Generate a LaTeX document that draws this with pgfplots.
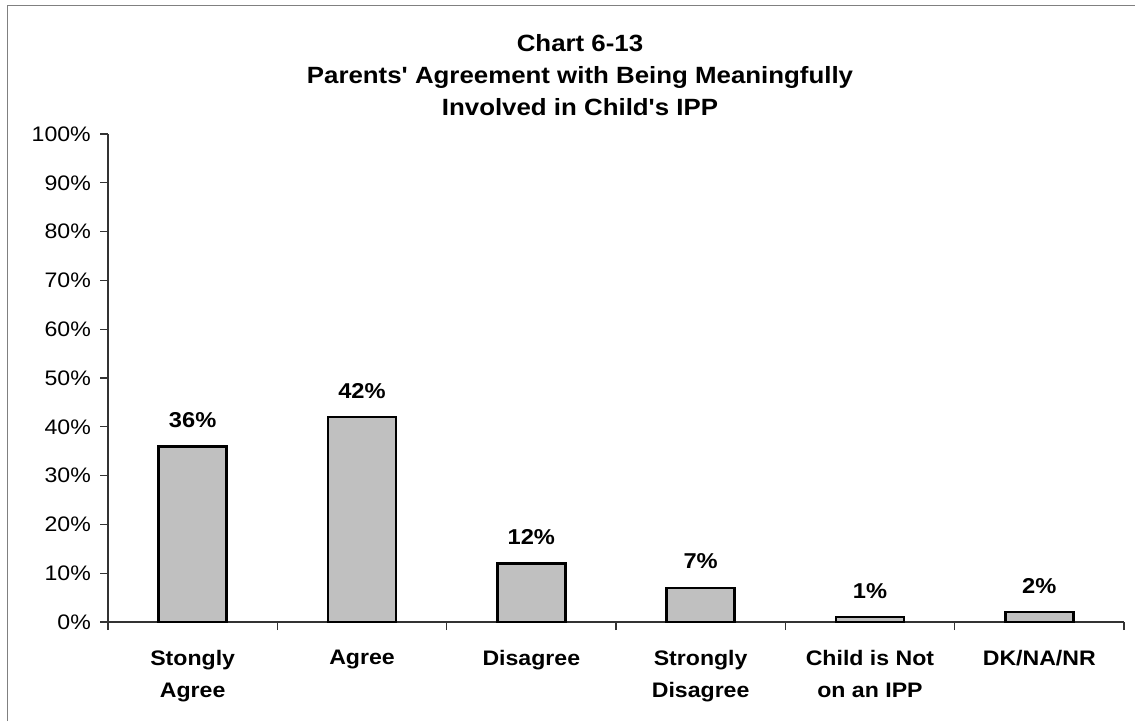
\documentclass[border=0pt]{standalone}
\usepackage{fontspec}
\setmainfont{Liberation Sans}[FakeStretch=1.1, Ligatures=TeXOff]
\usepackage{pgfplots}
\pgfplotsset{compat=1.18}
\definecolor{barfill}{HTML}{C0C0C0}
\definecolor{framegray}{HTML}{808080}
\begin{document}
\begin{tikzpicture}[x=1pt,y=1pt]
\useasboundingbox (0,0) rectangle (1135,721);
\draw[framegray, line width=1.5pt] (7.5,0) -- (7.5,715.5) -- (1135,715.5);
\node[anchor=north, inner sep=0pt, align=center, font=\fontsize{23.5}{32}\selectfont\bfseries] at (580,687) {Chart 6-13\\Parents' Agreement with Being Meaningfully\\Involved in Child's IPP};
\begin{axis}[
  at={(108pt,99pt)}, anchor=south west,
  scale only axis, width=1016pt, height=488pt,
  xmin=-0.5, xmax=5.5, ymin=0, ymax=100,
  axis lines*=left,
  axis line style={black!80, line width=1.2pt},
  clip=false,
  /pgf/number format/assume math mode=true,
  ytick={0,10,...,100},
  yticklabels={0\%,10\%,20\%,30\%,40\%,50\%,60\%,70\%,80\%,90\%,100\%},
  yticklabel style={font=\fontsize{21}{21}\selectfont, inner sep=0pt, anchor=east, xshift=-9pt},
  tick align=outside,
  major tick length=8pt,
  tick style={black!80, line width=1.2pt},
  xtick={-0.5,0.5,...,5.5},
  xticklabels={},
  extra x ticks={0,1,2,3,4,5},
  extra x tick labels={Stongly\\Agree, Agree, Disagree, Strongly\\Disagree, Child is Not\\on an IPP, DK/NA/NR},
  extra x tick style={major tick length=0pt,
    xticklabel style={font=\bfseries\fontsize{21}{32}\selectfont, align=center, inner sep=0pt, anchor=north, yshift=-28pt}},
]
\addplot[ybar, bar width=68pt, fill=barfill, draw=black, line width=2.5pt,
  nodes near coords={\pgfmathprintnumber{\pgfplotspointmeta}\%},
  nodes near coords style={font=\bfseries\fontsize{21.5}{21.5}\selectfont, anchor=base, inner sep=0pt, yshift=19pt, black}]
  coordinates {(0,36) (1,42) (2,12) (3,7) (4,1) (5,2)};
\end{axis}
\end{tikzpicture}
\end{document}
